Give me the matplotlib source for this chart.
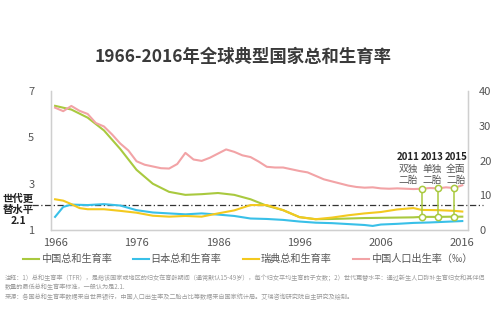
import numpy as np
import matplotlib
matplotlib.use("Agg")
import matplotlib.pyplot as plt

plt.rcParams["font.family"] = ["Noto Sans CJK SC", "DejaVu Sans"]

# total fertility rate (left axis)
cn_years = [1966, 1968, 1970, 1972, 1974, 1976, 1978, 1980, 1982, 1984, 1986, 1988, 1990,
            1992, 1994, 1996, 1998, 2000, 2002, 2004, 2006, 2008, 2010, 2011, 2013, 2015, 2016]
cn_tfr = [6.36, 6.2, 5.85, 5.3, 4.5, 3.6, 3.0, 2.65, 2.52, 2.55, 2.6, 2.52, 2.33,
          2.05, 1.86, 1.56, 1.47, 1.48, 1.5, 1.52, 1.53, 1.54, 1.55, 1.57, 1.57, 1.58, 1.58]

jp_years = [1966, 1967, 1968, 1970, 1972, 1974, 1976, 1978, 1980, 1982, 1984, 1986, 1988, 1990,
            1992, 1994, 1996, 1998, 2000, 2002, 2004, 2005, 2006, 2008, 2010, 2012, 2014, 2016]
jp_tfr = [1.57, 2.0, 2.1, 2.08, 2.12, 2.06, 1.86, 1.76, 1.72, 1.68, 1.72, 1.67, 1.61, 1.5,
          1.48, 1.44, 1.37, 1.32, 1.3, 1.26, 1.22, 1.18, 1.24, 1.27, 1.31, 1.33, 1.36, 1.39]

se_years = [1966, 1967, 1968, 1969, 1970, 1972, 1974, 1976, 1978, 1980, 1982, 1984, 1986, 1988,
            1990, 1992, 1994, 1996, 1998, 2000, 2002, 2004, 2006, 2008, 2010, 2011, 2013, 2015, 2016]
se_tfr = [2.33, 2.27, 2.12, 1.95, 1.9, 1.9, 1.83, 1.75, 1.62, 1.58, 1.61, 1.58, 1.72, 1.85,
          2.08, 2.08, 1.86, 1.56, 1.47, 1.54, 1.64, 1.72, 1.78, 1.89, 1.95, 1.87, 1.86, 1.83, 1.8]

# China crude birth rate, per mille (right axis)
br_years = list(range(1966, 2017))
br_values = [35.2, 34.2, 35.7, 34.3, 33.4, 30.8, 29.8, 27.5, 24.9, 22.9, 19.8, 18.8, 18.3,
             17.8, 17.7, 19.0, 22.2, 20.3, 19.9, 20.8, 22.0, 23.2, 22.5, 21.5, 21.0, 19.7,
             18.2, 18.0, 18.0, 17.5, 17.0, 16.6, 15.6, 14.6, 14.0, 13.4, 12.8, 12.4, 12.2,
             12.3, 12.0, 11.9, 12.0, 11.9, 11.8, 11.9, 12.1, 12.0, 12.3, 12.1, 12.9]

# two-child policy milestones
policy_years = [2011, 2013, 2015]
policy_names = ["双独\n二胎", "单独\n二胎", "全面\n二胎"]

replacement = 2.1
x_ticks = [1966, 1976, 1986, 1996, 2006, 2016]

GREEN = "#a9c93f"
CYAN = "#39c0e8"
YELLOW = "#f3c91f"
PINK = "#f2a3a6"
GREY = "#555555"

fig = plt.figure(figsize=(5, 3.25), dpi=100)
fig.patch.set_facecolor("white")
ax = fig.add_axes([0.102, 0.292, 0.834, 0.428])
ax2 = ax.twinx()

ax.set_xlim(1965.5, 2016.7)
ax.set_ylim(1, 7)
ax2.set_ylim(0, 40)

l1, = ax.plot(cn_years, cn_tfr, color=GREEN, lw=1.5, label="中国总和生育率")
l2, = ax.plot(jp_years, jp_tfr, color=CYAN, lw=1.5, label="日本总和生育率")
l3, = ax.plot(se_years, se_tfr, color=YELLOW, lw=1.5, label="瑞典总和生育率")
l4, = ax2.plot(br_years, br_values, color=PINK, lw=1.5, label="中国人口出生率（‰）")

# replacement level line, runs a little past both spines
ax.plot([1963.2, 2018.5], [replacement, replacement], color="#333333", lw=0.9,
        ls=(0, (5, 2, 1, 2)), clip_on=False, zorder=1)


def to_right(v):
    lo, hi = ax.get_ylim()
    rlo, rhi = ax2.get_ylim()
    return rlo + (v - lo) / (hi - lo) * (rhi - rlo)


label_dx = [-1.6, -0.7, 0.2]
for yr, name, dx in zip(policy_years, policy_names, label_dx):
    br = br_values[br_years.index(yr)]
    tfr = cn_tfr[cn_years.index(yr)]
    ax2.plot([yr, yr], [br, to_right(tfr)], color=GREEN, lw=1.1, zorder=4)
    ax2.plot([yr, yr], [br, to_right(tfr)], ls="none", marker="o", ms=4.5,
             mfc="white", mec=GREEN, mew=1.1, zorder=5)
    ax2.text(yr + dx, 20.9, str(yr), ha="center", va="center", fontsize=7,
             fontweight="bold", color="#222222")
    ax2.text(yr + dx, 16.0, name, ha="center", va="center", fontsize=7,
             color=GREY, linespacing=1.15)

for a in (ax, ax2):
    for s in a.spines.values():
        s.set_color("#cfcfcf")
        s.set_linewidth(0.9)
    a.spines["top"].set_visible(False)
    a.tick_params(length=0, labelsize=8, labelcolor=GREY)

ax.set_xticks(x_ticks)
ax.set_yticks([1, 3, 5, 7])
ax2.set_yticks([0, 10, 20, 30, 40])
ax.tick_params(axis="x", pad=6)
ax.tick_params(axis="y", pad=12)
ax2.tick_params(axis="y", pad=8)

fig.text(0.037, 1 - 210 / 325, "世代更\n替水平\n2.1", ha="center", va="center",
         fontsize=7.5, fontweight="bold", color="#222222", linespacing=1.15)

fig.text(0.486, 1 - 57 / 325, "1966-2016年全球典型国家总和生育率", ha="center", va="center",
         fontsize=12.5, fontweight="bold", color="#3a3a3a")

fig.legend(handles=[l1, l2, l3, l4], loc="center", bbox_to_anchor=(0.495, 1 - 259 / 325),
           ncol=4, frameon=False, fontsize=7.3, handlelength=1.6, handletextpad=0.15,
           columnspacing=2.1, labelcolor=GREY)

notes = ("注释：1）总和生育率（TFR），是指该国家或地区的妇女在育龄期间（通常默认15-49岁），每个妇女平均生育的子女数；2）世代更替水平：通过新生人口弥补生育妇女和其伴侣\n"
         "数量的最低总和生育率标准，一般认为是2.1.\n"
         "来源：各国总和生育率数据来自世界银行，中国人口出生率及二胎占比等数据来自国家统计局。艾瑞咨询研究院自主研究及绘制。")
fig.text(0.01, 1 - 274 / 325, notes, ha="left", va="top", fontsize=4.45,
         color="#9a9a9a", linespacing=1.25)

fig.savefig("out.png", dpi=100, facecolor="white")
